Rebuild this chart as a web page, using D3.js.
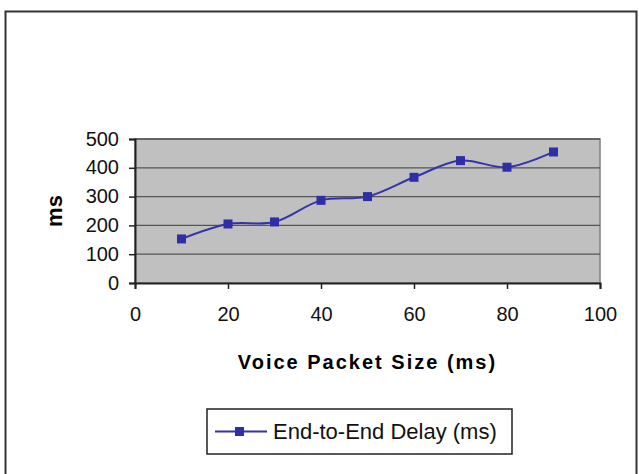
<!DOCTYPE html>
<html>
<head>
<meta charset="utf-8">
<script src="https://cdn.jsdelivr.net/npm/d3@7"></script>
<style>
  body { margin: 0; background: #fff; }
  text { font-family: "Liberation Sans", Arial, sans-serif; fill: #000; }
</style>
</head>
<body>
<div id="chart"></div>
<script>
// data
var packetSize = [10, 20, 30, 40, 50, 60, 70, 80, 90];
var delay = [153, 205, 212, 287, 300, 367, 425, 402, 455];
var xTicks = [0, 20, 40, 60, 80, 100];
var yTicks = [0, 100, 200, 300, 400, 500];
var seriesName = "End-to-End Delay (ms)";

var W = 639, H = 474;
var margin = {top: 139, right: 39, bottom: 191, left: 135},
    width = W - margin.left - margin.right,
    height = H - margin.top - margin.bottom;

var svg = d3.select("#chart").append("svg")
    .attr("width", W)
    .attr("height", H);

// outer frame (bottom edge runs off the picture)
svg.append("rect")
    .attr("x", 5.5).attr("y", 11.5)
    .attr("width", 631).attr("height", 480)
    .style("fill", "none")
    .style("stroke", "#333")
    .style("stroke-width", 2);

var g = svg.append("g")
    .attr("transform", "translate(" + margin.left + "," + margin.top + ")");

var x = d3.scaleLinear().domain([0, 100]).range([0, width]);
var y = d3.scaleLinear().domain([0, 500]).range([height, 0]);

// plot area
g.append("rect")
    .attr("width", width).attr("height", height)
    .style("fill", "#c0c0c0")
    .style("stroke", "#808080")
    .style("stroke-width", 1.5);

// gridlines
g.selectAll(".grid")
    .data(yTicks.slice(1))
  .enter().append("line")
    .attr("class", "grid")
    .attr("x1", 0).attr("x2", width)
    .attr("y1", function(d) { return y(d); })
    .attr("y2", function(d) { return y(d); })
    .style("stroke", "#555")
    .style("stroke-width", 1.3);

// axes
var yAxis = g.append("g")
    .call(d3.axisLeft(y).tickValues(yTicks).tickSize(6).tickPadding(10));
var xAxis = g.append("g")
    .attr("transform", "translate(0," + height + ")")
    .call(d3.axisBottom(x).tickValues(xTicks).tickSize(6).tickPadding(18));

[xAxis, yAxis].forEach(function(a) {
  a.select(".domain").style("stroke", "#222").style("stroke-width", 2);
  a.selectAll(".tick line").style("stroke", "#222").style("stroke-width", 1.5);
  a.selectAll("text")
    .style("font-family", "'Liberation Sans', Arial, sans-serif")
    .style("font-size", "20px")
    .style("fill", "#111");
});
yAxis.selectAll("text").attr("dy", "0.3em");

// series
var pts = packetSize.map(function(d, i) { return [d, delay[i]]; });
var line = d3.line()
    .x(function(d) { return x(d[0]); })
    .y(function(d) { return y(d[1]); })
    .curve(d3.curveCatmullRom.alpha(0.5));

g.append("path")
    .datum(pts)
    .attr("d", line)
    .style("fill", "none")
    .style("stroke", "#3333aa")
    .style("stroke-width", 2);

g.selectAll(".dot")
    .data(pts)
  .enter().append("rect")
    .attr("class", "dot")
    .attr("x", function(d) { return x(d[0]) - 4.5; })
    .attr("y", function(d) { return y(d[1]) - 4.5; })
    .attr("width", 9).attr("height", 9)
    .style("fill", "#2e2ea6");

// axis titles
svg.append("text")
    .attr("x", margin.left + width / 2)
    .attr("y", 369)
    .attr("text-anchor", "middle")
    .style("font-size", "20px")
    .style("font-weight", "bold")
    .style("letter-spacing", "2px")
    .text("Voice Packet Size (ms)");

svg.append("text")
    .attr("transform", "translate(62," + (margin.top + height / 2) + ") rotate(-90)")
    .attr("text-anchor", "middle")
    .style("font-size", "22px")
    .style("font-weight", "bold")
    .text("ms");

// legend
var lg = svg.append("g").attr("transform", "translate(207,409)");
lg.append("rect")
    .attr("width", 305).attr("height", 45)
    .style("fill", "#fff")
    .style("stroke", "#222")
    .style("stroke-width", 1.5);
lg.append("line")
    .attr("x1", 8).attr("x2", 60)
    .attr("y1", 22.5).attr("y2", 22.5)
    .style("stroke", "#3333aa")
    .style("stroke-width", 2);
lg.append("rect")
    .attr("x", 28).attr("y", 18).attr("width", 9).attr("height", 9)
    .style("fill", "#2e2ea6");
lg.append("text")
    .attr("x", 66).attr("y", 22.5)
    .attr("dy", "0.36em")
    .style("font-size", "22px")
    .style("fill", "#111")
    .text(seriesName);
</script>
</body>
</html>
